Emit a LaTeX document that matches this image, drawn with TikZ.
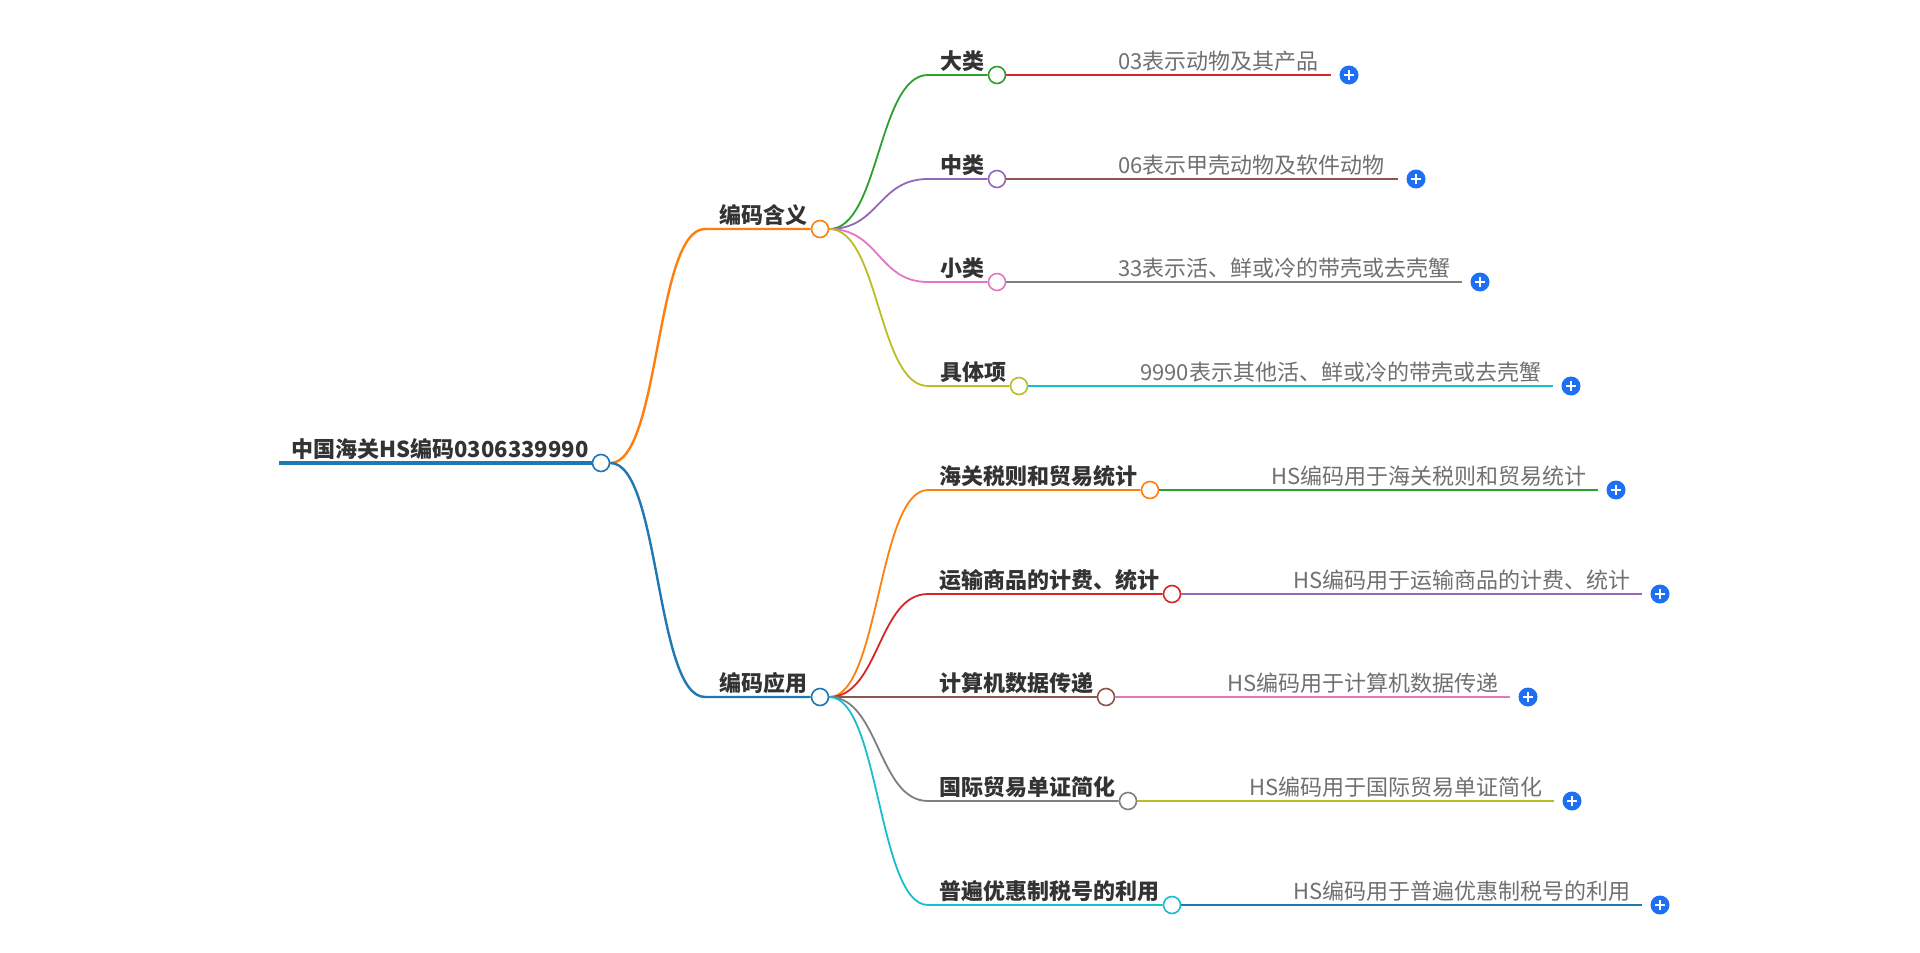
\documentclass[tikz,border=0pt]{standalone}
\usepackage{fontspec}
\setmainfont{Noto Sans CJK SC}
\definecolor{cblue}{HTML}{1F77B4}
\definecolor{corange}{HTML}{FF7F0E}
\definecolor{cgreen}{HTML}{2CA02C}
\definecolor{cred}{HTML}{D62728}
\definecolor{cpurple}{HTML}{9467BD}
\definecolor{cbrown}{HTML}{8C564B}
\definecolor{cpink}{HTML}{E377C2}
\definecolor{cgray}{HTML}{7F7F7F}
\definecolor{colive}{HTML}{BCBD22}
\definecolor{ccyan}{HTML}{17BECF}
\definecolor{plusblue}{HTML}{1F6FF2}
\definecolor{labeltext}{HTML}{333333}
\definecolor{leaftext}{HTML}{707070}
\begin{document}
\begin{tikzpicture}[x=1pt,y=-1pt]
        \tikzstyle{dot}=[circle, draw, fill=white, line width=1.6pt, inner sep=0pt, minimum size=17pt]
        \tikzstyle{lbl}=[anchor=base east, inner sep=0pt, xshift=-3pt, yshift=6pt, text=labeltext, font=\fontsize{22}{25}\selectfont\bfseries]
        \tikzstyle{leaf}=[anchor=base west, inner sep=0pt, yshift=6pt, text=leaftext, font=\fontsize{22}{25}\selectfont]
        \tikzstyle{more}=[circle, fill=plusblue, inner sep=0pt, minimum size=19pt,
            path picture={\draw[white, line width=2pt]
                ([xshift=-5pt]path picture bounding box.center) -- ([xshift=5pt]path picture bounding box.center)
                ([yshift=-5pt]path picture bounding box.center) -- ([yshift=5pt]path picture bounding box.center);}]
        \tikzstyle{trunk}=[line width=4.5pt]
        \tikzstyle{branch}=[line width=2.4pt]
        \tikzstyle{twig}=[line width=1.8pt]
        \useasboundingbox[fill=white] (0,0) rectangle (1920,953);
        % root
        \coordinate (r0) at (279,463);
        \node[dot, draw=cblue] (R) at (601,463) {};
        \node[lbl] (lR) at (R.west) {中国海关HS编码0306339990};
        \draw[trunk, cblue] (r0) -- (R.west);
        % first level
        \node[dot, draw=corange] (A) at (820,229) {};
        \node[dot, draw=cblue] (B) at (820,697) {};
        \node[lbl] (lA) at (A.west) {编码含义};
        \node[lbl] (lB) at (B.west) {编码应用};
        \coordinate (sA) at (705,229);
        \coordinate (sB) at (705,697);
        \draw[branch, corange] (R.east) .. controls +(50,0) and +(-50,0) .. (sA) -- (A.west);
        \draw[branch, cblue] (R.east) .. controls +(50,0) and +(-50,0) .. (sB) -- (B.west);
        % second level
        \node[dot, draw=cgreen] (A1) at (997,75) {};
        \node[dot, draw=cpurple] (A2) at (997,179) {};
        \node[dot, draw=cpink] (A3) at (997,282) {};
        \node[dot, draw=colive] (A4) at (1019,386) {};
        \node[dot, draw=corange] (B1) at (1150,490) {};
        \node[dot, draw=cred] (B2) at (1172,594) {};
        \node[dot, draw=cbrown] (B3) at (1106,697) {};
        \node[dot, draw=cgray] (B4) at (1128,801) {};
        \node[dot, draw=ccyan] (B5) at (1172,905) {};
        \node[lbl] (lA1) at (A1.west) {大类};
        \node[lbl] (lA2) at (A2.west) {中类};
        \node[lbl] (lA3) at (A3.west) {小类};
        \node[lbl] (lA4) at (A4.west) {具体项};
        \node[lbl] (lB1) at (B1.west) {海关税则和贸易统计};
        \node[lbl] (lB2) at (B2.west) {运输商品的计费、统计};
        \node[lbl] (lB3) at (B3.west) {计算机数据传递};
        \node[lbl] (lB4) at (B4.west) {国际贸易单证简化};
        \node[lbl] (lB5) at (B5.west) {普遍优惠制税号的利用};
        \coordinate (sA1) at (928,75);
        \coordinate (sA2) at (928,179);
        \coordinate (sA3) at (928,282);
        \coordinate (sA4) at (928,386);
        \coordinate (sB1) at (928,490);
        \coordinate (sB2) at (928,594);
        \coordinate (sB3) at (928,697);
        \coordinate (sB4) at (928,801);
        \coordinate (sB5) at (928,905);
        \draw[twig, cgreen] (A.east) .. controls +(50,0) and +(-50,0) .. (sA1) -- (A1.west);
        \draw[twig, cpurple] (A.east) .. controls +(50,0) and +(-50,0) .. (sA2) -- (A2.west);
        \draw[twig, cpink] (A.east) .. controls +(50,0) and +(-50,0) .. (sA3) -- (A3.west);
        \draw[twig, colive] (A.east) .. controls +(50,0) and +(-50,0) .. (sA4) -- (A4.west);
        \draw[twig, corange] (B.east) .. controls +(50,0) and +(-50,0) .. (sB1) -- (B1.west);
        \draw[twig, cred] (B.east) .. controls +(50,0) and +(-50,0) .. (sB2) -- (B2.west);
        \draw[twig, cbrown] (B.east) -- (B3.west);
        \draw[twig, cgray] (B.east) .. controls +(50,0) and +(-50,0) .. (sB4) -- (B4.west);
        \draw[twig, ccyan] (B.east) .. controls +(50,0) and +(-50,0) .. (sB5) -- (B5.west);
        % leaves
        \node[leaf] (tA1) at (1118,75) {03表示动物及其产品};
        \node[leaf] (tA2) at (1118,179) {06表示甲壳动物及软件动物};
        \node[leaf] (tA3) at (1118,282) {33表示活、鲜或冷的带壳或去壳蟹};
        \node[leaf] (tA4) at (1140,386) {9990表示其他活、鲜或冷的带壳或去壳蟹};
        \node[leaf] (tB1) at (1271,490) {HS编码用于海关税则和贸易统计};
        \node[leaf] (tB2) at (1293,594) {HS编码用于运输商品的计费、统计};
        \node[leaf] (tB3) at (1227,697) {HS编码用于计算机数据传递};
        \node[leaf] (tB4) at (1249,801) {HS编码用于国际贸易单证简化};
        \node[leaf] (tB5) at (1293,905) {HS编码用于普遍优惠制税号的利用};
        \node[more] (pA1) at (1349,75) {};
        \node[more] (pA2) at (1416,179) {};
        \node[more] (pA3) at (1480,282) {};
        \node[more] (pA4) at (1571,386) {};
        \node[more] (pB1) at (1616,490) {};
        \node[more] (pB2) at (1660,594) {};
        \node[more] (pB3) at (1528,697) {};
        \node[more] (pB4) at (1572,801) {};
        \node[more] (pB5) at (1660,905) {};
        \draw[twig, cred] (A1.east) -- ([xshift=-8pt]pA1.west);
        \draw[twig, cbrown] (A2.east) -- ([xshift=-8pt]pA2.west);
        \draw[twig, cgray] (A3.east) -- ([xshift=-8pt]pA3.west);
        \draw[twig, ccyan] (A4.east) -- ([xshift=-8pt]pA4.west);
        \draw[twig, cgreen] (B1.east) -- ([xshift=-8pt]pB1.west);
        \draw[twig, cpurple] (B2.east) -- ([xshift=-8pt]pB2.west);
        \draw[twig, cpink] (B3.east) -- ([xshift=-8pt]pB3.west);
        \draw[twig, colive] (B4.east) -- ([xshift=-8pt]pB4.west);
        \draw[twig, cblue] (B5.east) -- ([xshift=-8pt]pB5.west);
\end{tikzpicture}
\end{document}
